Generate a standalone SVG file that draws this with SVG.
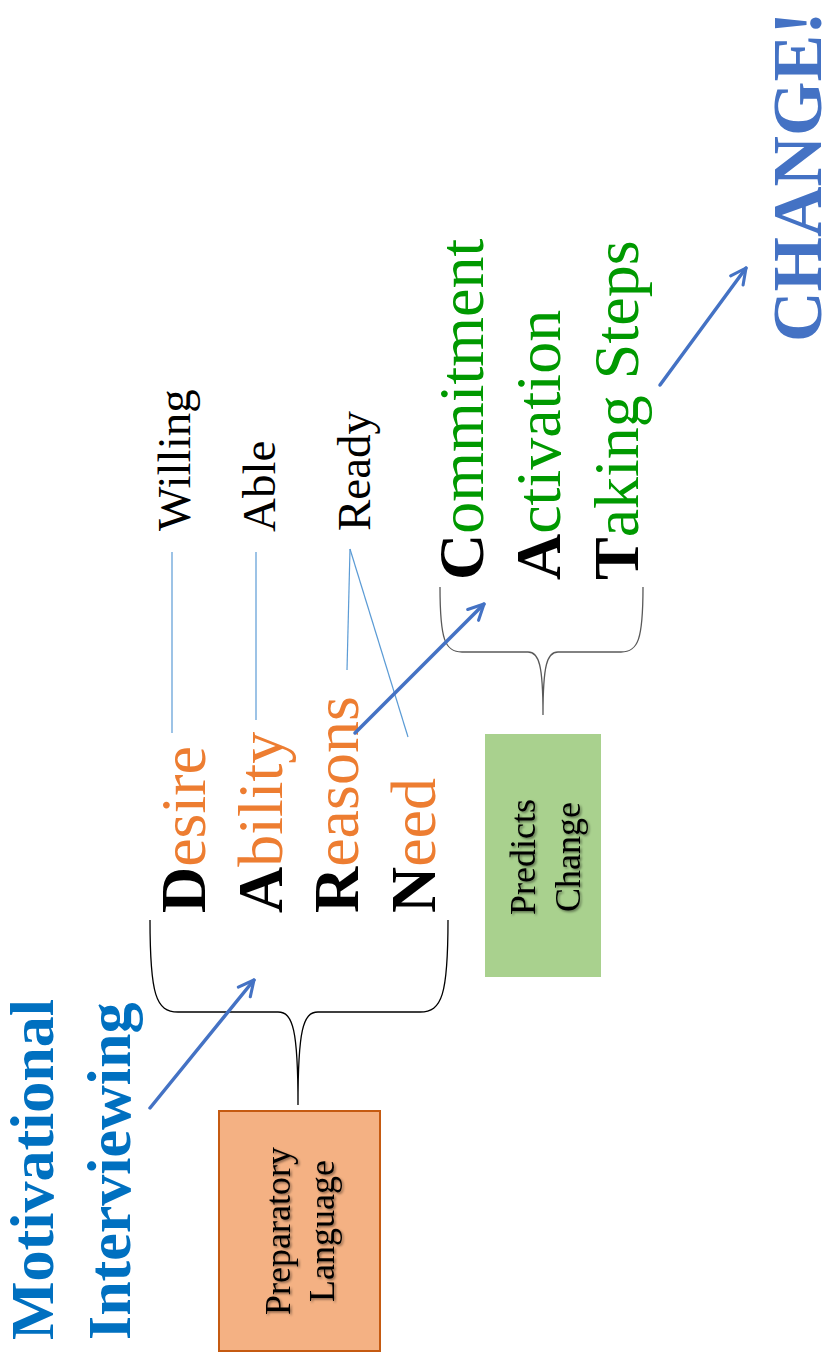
<svg xmlns="http://www.w3.org/2000/svg" width="828" height="1358" viewBox="0 0 828 1358">
<style>
.serif{font-family:"Liberation Serif","Times New Roman",serif}
.title{font-size:62px;font-weight:bold;fill:#0070C0}
.big{font-size:64px}
.b{font-weight:bold;fill:#000}
.or{fill:#ED7D31}
.gr{fill:#009900}
.mid{font-size:47px;fill:#000}
.box{font-size:36px;fill:#000;text-anchor:middle}
.thin{stroke:#5B9BD5;stroke-width:1.2;fill:none}
.arrow{stroke:#4472C4;stroke-width:3.5;fill:none;stroke-linecap:round;marker-end:url(#ah)}
.brace{fill:none;stroke-width:1.3}
</style>
<defs>
<marker id="ah" viewBox="0 0 10 10" refX="9" refY="5" markerWidth="5.5" markerHeight="5.5" orient="auto" markerUnits="strokeWidth">
<path d="M1,1 L9,5 L1,9" fill="none" stroke="#4472C4" stroke-width="1.6" stroke-linecap="round" stroke-linejoin="round"/>
</marker>
<filter id="sh" x="-20%" y="-20%" width="140%" height="140%">
<feDropShadow dx="1.5" dy="1.5" stdDeviation="1" flood-color="#000" flood-opacity="0.45"/>
</filter>
</defs>
<rect width="828" height="1358" fill="#fff"/>

<g id="title" class="serif title">
<text transform="translate(53,1340) rotate(-90)">Motivational</text>
<text transform="translate(130,1340) rotate(-90)">Interviewing</text>
</g>

<g id="darn" class="serif big">
<text id="desire" transform="translate(205,913) rotate(-90)"><tspan class="b">D</tspan><tspan class="or">esire</tspan></text>
<text id="ability" transform="translate(282,913) rotate(-90)"><tspan class="b">A</tspan><tspan class="or">bility</tspan></text>
<text id="reasons" transform="translate(358,913) rotate(-90)"><tspan class="b">R</tspan><tspan class="or">easons</tspan></text>
<text id="need" transform="translate(435,913) rotate(-90)"><tspan class="b">N</tspan><tspan class="or">eed</tspan></text>
</g>

<g id="war" class="serif mid">
<text id="willing" transform="translate(190,531) rotate(-90)">Willing</text>
<text id="able" transform="translate(275,532) rotate(-90)">Able</text>
<text id="ready" transform="translate(370,531) rotate(-90)">Ready</text>
</g>

<g id="cat" class="serif big">
<text id="commitment" transform="translate(483,580) rotate(-90)"><tspan class="b">C</tspan><tspan class="gr">ommitment</tspan></text>
<text id="activation" transform="translate(560,580) rotate(-90)"><tspan class="b">A</tspan><tspan class="gr">ctivation</tspan></text>
<text id="taking" transform="translate(638,580) rotate(-90)"><tspan class="b">T</tspan><tspan class="gr">aking Steps</tspan></text>
</g>

<g id="change" class="serif">
<text transform="translate(821,342) rotate(-90)" font-size="70" font-weight="bold" fill="#4472C4">CHANGE!</text>
</g>

<g id="preparatory">
<rect x="219" y="1111" width="161" height="240" fill="#F4B183" stroke="#C55A11" stroke-width="2"/>
<g filter="url(#sh)">
<text class="serif box" transform="translate(290,1231) rotate(-90)">Preparatory</text>
<text class="serif box" transform="translate(334,1231) rotate(-90)">Language</text>
</g>
</g>

<g id="predicts">
<rect x="485" y="734" width="116" height="243" fill="#A9D18E"/>
<g filter="url(#sh)">
<text class="serif box" transform="translate(535,857) rotate(-90)">Predicts</text>
<text class="serif box" transform="translate(580,857) rotate(-90)">Change</text>
</g>
</g>

<g id="connectors">
<path class="brace" stroke="#000" d="M150,920 C150,995 156,1012 178,1012 L278,1012 C293,1012 298,1030 298,1105 M448,920 C448,995 442,1012 420,1012 L318,1012 C303,1012 298,1030 298,1105"/>
<path class="brace" stroke="#595959" d="M440,587 C440,640 445,652 462,652 L528,652 C539,652 543,665 543,715 M643,587 C643,640 638,652 621,652 L558,652 C547,652 543,665 543,715"/>
<line class="thin" x1="172" y1="552" x2="172" y2="733"/>
<line class="thin" x1="256" y1="552" x2="256" y2="720"/>
<line class="thin" x1="350" y1="549" x2="347" y2="670"/>
<line class="thin" x1="350" y1="549" x2="408" y2="737"/>
<line class="arrow" x1="150" y1="1108" x2="254" y2="980"/>
<line class="arrow" x1="355" y1="733" x2="484" y2="604"/>
<line class="arrow" x1="660" y1="385" x2="746" y2="268"/>
</g>
</svg>
